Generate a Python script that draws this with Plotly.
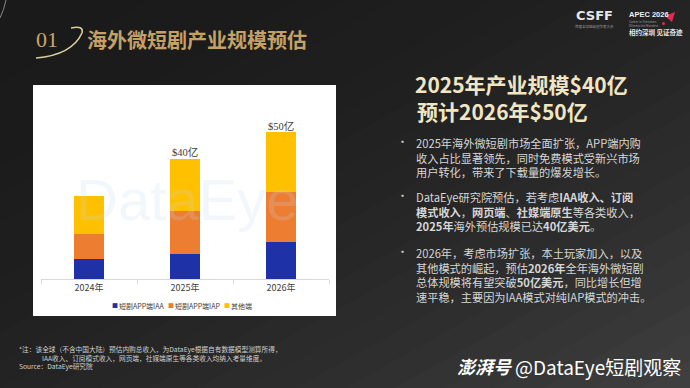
import plotly.graph_objects as go

# ---------------- data ----------------
categories = ["2024年", "2025年", "2026年"]
series_names = ["短剧APP端IAA", "短剧APP端IAP", "其他端"]
iaa_values = [6.8, 8.3, 12.3]
iap_values = [8.4, 14.4, 16.7]
other_values = [12.6, 17.4, 20.0]
total_labels = ["", "$40亿", "$50亿"]
series_colors = ["#1f31a6", "#ed7d31", "#ffc000"]

W, H = 690, 388


def px(x, y):
    return x / W, 1 - y / H


fig = go.Figure()

series_values = [iaa_values, iap_values, other_values]
for name, vals, col in zip(series_names, series_values, series_colors):
    fig.add_trace(go.Bar(x=categories, y=vals, name=name, marker=dict(color=col, line=dict(width=0)),
                         width=0.31, showlegend=False, hoverinfo="x+y+name"))

totals = [a + b + c for a, b, c in zip(iaa_values, iap_values, other_values)]
fig.add_trace(go.Scatter(x=categories, y=totals, text=total_labels, mode="text",
                         textposition="top center", showlegend=False,
                         textfont=dict(family="Liberation Serif, Noto Sans CJK SC", size=10.5, color="#404040"),
                         hoverinfo="skip"))

# ---------------- background gradient (decoration) ----------------
shapes = []
N = 28
def grey(s):
    t = s / 2.0
    v = int(round(26 + 38 * t * t))
    return f"rgb({v},{v},{v})"

for k in range(1, N):
    s = 2.0 * k / N
    if s <= 1:
        pts = [(s, 1), (1, 1), (1, 0), (0, 0), (0, 1 - s)]
    else:
        pts = [(1, 2 - s), (1, 0), (s - 1, 0)]
    path = "M " + " L ".join(f"{x:.4f},{y:.4f}" for x, y in pts) + " Z"
    shapes.append(dict(type="path", path=path, xref="paper", yref="paper", layer="below",
                       fillcolor=grey(s + 1.0 / N), line=dict(width=0)))

# white chart panel
x0, y1 = px(33, 85)
x1, y0 = px(336, 316)
shapes.append(dict(type="rect", xref="paper", yref="paper", x0=x0, x1=x1, y0=y0, y1=y1,
                   fillcolor="white", line=dict(width=0), layer="below"))

# title swoosh
def ppath(cmds):
    out = []
    for c in cmds:
        if isinstance(c, str):
            out.append(c)
        else:
            x, y = px(*c)
            out.append(f"{x:.4f},{y:.4f}")
    return " ".join(out)

shapes.append(dict(type="path", xref="paper", yref="paper",
                   path=ppath(["M", (36, 58), "Q", (72, 55), (82, 33), "Q", (84, 25), (71, 28)]),
                   line=dict(color="#d9cf9e", width=1.6)))
shapes.append(dict(type="path", xref="paper", yref="paper",
                   path=ppath(["M", (0, 18), "Q", (4, 10), (6, 0)]),
                   line=dict(color="#8a8a8a", width=1)))
# pink icon
shapes.append(dict(type="path", xref="paper", yref="paper",
                   path=ppath(["M", (665, 16), "L", (675, 12), "L", (672, 22), "Z"]),
                   fillcolor="#e02a5a", line=dict(width=0)))
shapes.append(dict(type="circle", xref="paper", yref="paper",
                   x0=662 / W, x1=665 / W, y0=1 - 25 / H, y1=1 - 22 / H,
                   fillcolor="#e02a5a", line=dict(width=0)))

# ---------------- annotations ----------------
ann = []
CJK = "Noto Sans CJK SC, Noto Sans, sans-serif"

def text(x, y, s, size, color, xanchor="left", yanchor="middle", family=CJK, align="left"):
    xx, yy = px(x, y)
    ann.append(dict(x=xx, y=yy, xref="paper", yref="paper", text=s, showarrow=False,
                    xanchor=xanchor, yanchor=yanchor, align=align, borderpad=0,
                    font=dict(family=family, size=size, color=color)))

# watermark
text(187, 200, "DataEye", 58, "rgba(190,215,240,0.2)", xanchor="center", family="Liberation Sans, Arial")

# custom legend
legend_marker_x = [114.7, 170.7, 226.7]
for name, col, mx in zip(series_names, series_colors, legend_marker_x):
    text(mx, 305.7, "■", 6, col, xanchor="center")
    text(mx + 3.5, 305.7, name, 7, "#404040")

# title
text(35, 40, "01", 22, "#caa66e", family="Liberation Serif, serif")
text(86, 40, "<b>海外微短剧产业规模预估</b>", 20, "#c6a166")

# logos
text(594, 15.5, "<b>CSFF</b>", 13, "#e6e6e6", xanchor="center", family="DejaVu Sans, sans-serif")
text(594, 26.5, "首届全球短剧创作者大会", 3.5, "#9a9a9a", xanchor="center")
text(628, 14.5, "<b>APEC 2026</b>", 7.5, "#f0f0f0", family="Liberation Sans, Arial")
text(628, 23.5, "Gather in Shenzhen<br>Witness the Wonders", 3, "#9a9a9a")
text(628, 32, "<b>相约深圳 见证奇迹</b>", 6.5, "#e6e6e6")

# right heading
text(414, 84, "<b>2025年产业规模$40亿</b>", 21, "#f1e5c2")
text(416, 110.5, "<b>预计2026年$50亿</b>", 21, "#f1e5c2")

# bullets
bullets = [
    (141, "2025年海外微短剧市场全面扩张，APP端内购<br>收入占比显著领先，同时免费模式受新兴市场<br>用户转化，带来了下载量的爆发增长。"),
    (195, "DataEye研究院预估，若考虑<b>IAA收入、订阅</b><br><b>模式收入</b>，<b>网页端</b>、<b>社媒端原生</b>等各类收入，<br><b>2025年</b>海外预估规模已达<b>40亿美元</b>。"),
    (251, "2026年，考虑市场扩张，本土玩家加入，以及<br>其他模式的崛起，预估<b>2026年</b>全年海外微短剧<br>总体规模将有望突破<b>50亿美元</b>，同比增长但增<br>速平稳，主要因为IAA模式对纯IAP模式的冲击。"),
]
for yline, s in bullets:
    text(402, yline, "•", 11, "#cfcfcf", xanchor="center")
    text(415, yline - 7.5, s, 11.2, "#d6d6d6", yanchor="top")

# footnote (one block)
footnote = ("*注：该全球（不含中国大陆）预估内购总收入，为DataEye根据自有数据模型测算所得，<br>"
            "\u3000\u3000\u3000\u00a0\u00a0IAA收入、订阅模式收入，网页端，社媒端原生等各类收入均纳入考量维度。<br>"
            "Source：DataEye研究院")
text(18, 357.3, footnote, 6.7, "#cfcfcf")

# source credit
text(456, 366, "<b><i>澎湃号</i></b>", 18, "#ffffff")
text(514, 366, "@DataEye短剧观察", 19, "#ffffff")

fig.update_layout(
    width=W, height=H,
    margin=dict(l=0, r=0, t=0, b=0),
    paper_bgcolor=grey(0.5 / N * 2),
    plot_bgcolor="rgba(0,0,0,0)",
    barmode="stack",
    shapes=shapes,
    annotations=ann,
    showlegend=False,
    xaxis=dict(domain=[41 / W, 329 / W], type="category", categoryorder="array", categoryarray=categories,
               showline=True, linecolor="#d9d9d9", linewidth=1, ticks="outside", tickson="boundaries",
               ticklen=4, tickcolor="#d9d9d9", showgrid=False, zeroline=False,
               tickfont=dict(family=CJK, size=9, color="#404040")),
    yaxis=dict(domain=[1 - 279.3 / H, 1 - 100 / H], range=[0, 59.8], visible=False, showgrid=False),
)

fig.write_html("out.html", config={"displayModeBar": False},
               post_script="document.body.style.margin='0';document.body.style.overflow='hidden';")
